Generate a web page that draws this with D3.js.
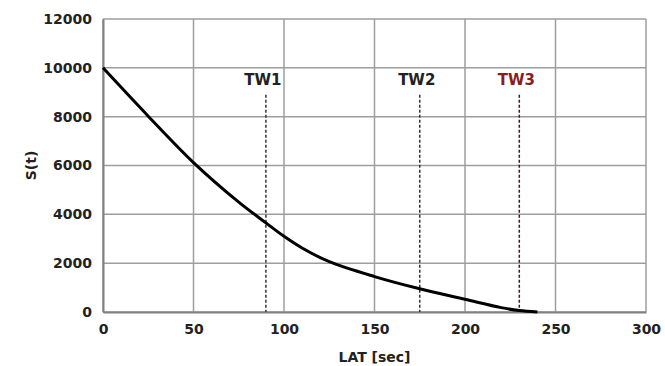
<!DOCTYPE html>
<html>
<head>
<meta charset="utf-8">
<script src="https://cdn.jsdelivr.net/npm/d3@7"></script>
<style>
  body { margin: 0; background: #fff; }
  text { font-family: "DejaVu Sans", Verdana, sans-serif; }
</style>
</head>
<body>
<div id="chart"></div>
<script>
// Данные кривой S(t)
const latValues = [0, 25, 50, 75, 90, 100, 110, 125, 150, 175, 200, 220, 230, 240];
const sValues = [10000, 8020, 6120, 4500, 3650, 3100, 2620, 2060, 1450, 950, 520, 180, 60, 0];

// Временные окна
const windowNames = ["TW1", "TW2", "TW3"];
const windowLat = [90, 175, 230];

const xTicks = [0, 50, 100, 150, 200, 250, 300];
const yTicks = [0, 2000, 4000, 6000, 8000, 10000, 12000];

const width = 665;
const height = 366;
const margin = { top: 19, right: 19, bottom: 54, left: 103 };

const svg = d3.select("#chart")
    .append("svg")
    .attr("width", width)
    .attr("height", height);

const x = d3.scaleLinear().domain([0, 300]).range([margin.left, width - margin.right]);
const y = d3.scaleLinear().domain([0, 12000]).range([height - margin.bottom, margin.top]);

// Сетка
svg.append("g")
    .selectAll("line")
    .data(xTicks)
    .enter()
    .append("line")
    .attr("x1", d => x(d))
    .attr("x2", d => x(d))
    .attr("y1", y(0))
    .attr("y2", y(12000))
    .attr("stroke", "#9e9e9e")
    .attr("stroke-width", 1.5);

svg.append("g")
    .selectAll("line")
    .data(yTicks)
    .enter()
    .append("line")
    .attr("x1", x(0))
    .attr("x2", x(300))
    .attr("y1", d => y(d))
    .attr("y2", d => y(d))
    .attr("stroke", "#9e9e9e")
    .attr("stroke-width", 1.5);

// Оси
const xAxis = svg.append("g")
    .attr("transform", `translate(0, ${y(0)})`)
    .call(d3.axisBottom(x).tickValues(xTicks).tickSize(0).tickPadding(12));

const yAxis = svg.append("g")
    .attr("transform", `translate(${x(0)}, 0)`)
    .call(d3.axisLeft(y).tickValues(yTicks).tickSize(0).tickPadding(11).tickFormat(d3.format("d")));

[xAxis, yAxis].forEach(a => {
    a.select(".domain").attr("stroke", "#808080").attr("stroke-width", 2);
    a.selectAll("text")
        .attr("font-family", "DejaVu Sans, sans-serif")
        .attr("font-size", "14px")
        .attr("font-weight", "bold")
        .attr("fill", "#222");
});

// Пунктирные линии окон
svg.append("g")
    .selectAll("line")
    .data(windowLat)
    .enter()
    .append("line")
    .attr("x1", d => x(d))
    .attr("x2", d => x(d))
    .attr("y1", y(8900))
    .attr("y2", y(0))
    .attr("stroke", (d, i) => i === 2 ? "#3a1a1a" : "#333")
    .attr("stroke-width", 1.5)
    .attr("stroke-dasharray", "3,2");

svg.append("g")
    .selectAll("text")
    .data(windowNames)
    .enter()
    .append("text")
    .attr("x", (d, i) => x(windowLat[i]) - 3)
    .attr("y", y(9300))
    .attr("text-anchor", "middle")
    .attr("font-size", "15px")
    .attr("font-weight", "bold")
    .attr("fill", (d, i) => i === 2 ? "#8b1c1c" : "#222")
    .text(d => d);

// Кривая
const line = d3.line()
    .x((d, i) => x(latValues[i]))
    .y(d => y(d))
    .curve(d3.curveCatmullRom.alpha(0.5));

svg.append("path")
    .datum(sValues)
    .attr("d", line)
    .attr("fill", "none")
    .attr("stroke", "#000")
    .attr("stroke-width", 3);

// Подписи осей
svg.append("text")
    .attr("x", (x(0) + x(300)) / 2)
    .attr("y", 362)
    .attr("text-anchor", "middle")
    .attr("font-size", "14px")
    .attr("font-weight", "bold")
    .attr("fill", "#222")
    .text("LAT [sec]");

svg.append("text")
    .attr("transform", `translate(36, ${y(6000)}) rotate(-90)`)
    .attr("text-anchor", "middle")
    .attr("font-size", "14px")
    .attr("font-weight", "bold")
    .attr("fill", "#222")
    .text("S(t)");
</script>
</body>
</html>
